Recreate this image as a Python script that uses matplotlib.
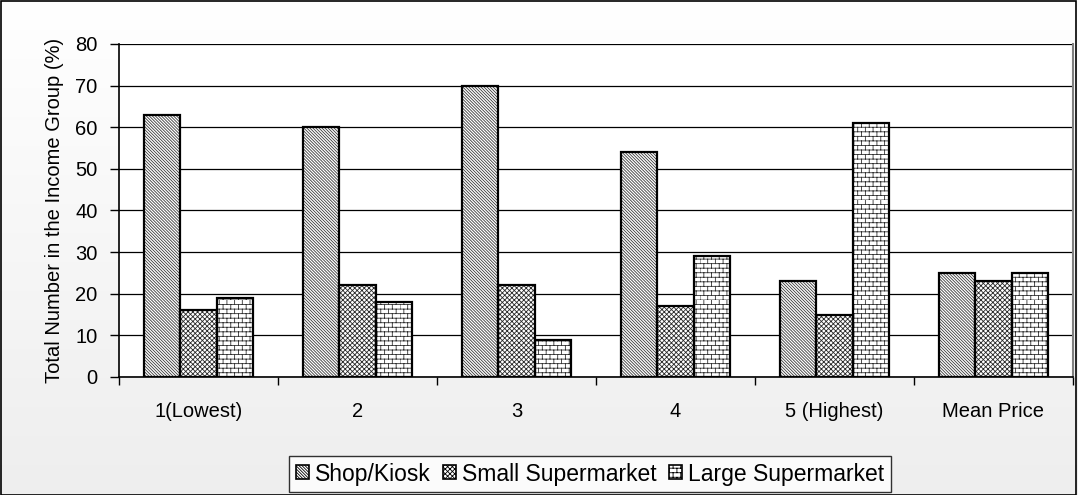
import numpy as np
import matplotlib
matplotlib.use("Agg")
import matplotlib.pyplot as plt
from matplotlib import hatch as mhatch
from matplotlib.path import Path
from matplotlib.patches import Patch, Rectangle
import warnings

warnings.filterwarnings("ignore")

categories = ["1(Lowest)", "2", "3", "4", "5 (Highest)", "Mean Price"]
shop_kiosk = [63, 60, 70, 54, 23, 25]
small_supermarket = [16, 22, 22, 17, 15, 23]
large_supermarket = [19, 18, 9, 29, 61, 25]
series_names = ["Shop/Kiosk", "Small Supermarket", "Large Supermarket"]
y_ticks = [0, 10, 20, 30, 40, 50, 60, 70, 80]


class BrickHatch(mhatch.HatchPatternBase):
    """Brick-wall hatch: horizontal courses with staggered vertical joints."""

    def __init__(self, hatch, density):
        n = hatch.count("b")
        self.rows = 22 * n
        self.cols = 13 * n
        self.num_vertices = 2 * self.rows + 2 * self.rows * self.cols

    def set_vertices_and_codes(self, vertices, codes):
        verts = []
        for k in range(self.rows):
            y = k / self.rows
            verts += [(0.0, y), (1.0, y)]
        for k in range(self.rows):
            y0 = k / self.rows
            y1 = (k + 1) / self.rows
            off = 0.5 * (k % 2)
            for j in range(self.cols):
                xv = (j + off) / self.cols
                verts += [(xv, y0), (xv, y1)]
        vertices[:] = np.array(verts)
        codes[0::2] = Path.MOVETO
        codes[1::2] = Path.LINETO


mhatch._hatch_types.append(BrickHatch)

plt.rcParams["font.family"] = ["Liberation Sans", "DejaVu Sans"]
plt.rcParams["hatch.linewidth"] = 0.6

W, H = 1078, 495
fig = plt.figure(figsize=(W / 100, H / 100), dpi=100)

# light vertical gradient behind everything
bg = fig.add_axes([0, 0, 1, 1], zorder=-10)
grad = np.linspace(0, 1, 256).reshape(-1, 1)
bg.imshow(grad, aspect="auto",
          cmap=matplotlib.colors.LinearSegmentedColormap.from_list("g", ["#ffffff", "#eeeeee"]),
          extent=[0, 1, 0, 1], origin="upper")
bg.set_xlim(0, 1)
bg.set_ylim(0, 1)
bg.axis("off")
fig.patches.append(Rectangle((0.0005, 0.001), 0.998, 0.997, transform=fig.transFigure,
                             fill=False, edgecolor="black", linewidth=1.2))

left, right = 119 / W, 1073 / W
bottom, top = (H - 377) / H, (H - 44) / H
ax = fig.add_axes([left, bottom, right - left, top - bottom])
ax.set_facecolor("white")

x = np.arange(len(categories))
bw = 0.227
hatches = ["\\" * 11, "x" * 7, "b"]
hatch_colors = ["#3a3a3a", "#2a2a2a", "#303030"]
data = [shop_kiosk, small_supermarket, large_supermarket]
for i, (vals, name, h, hc) in enumerate(zip(data, series_names, hatches, hatch_colors)):
    ax.bar(x + (i - 1) * bw, vals, width=bw, color="white", edgecolor=hc,
           hatch=h, linewidth=0, label=name, zorder=3)
    ax.bar(x + (i - 1) * bw, vals, width=bw, fill=False, edgecolor="black",
           linewidth=1.6, zorder=4)

ax.set_xlim(-0.5, len(categories) - 0.5)
ax.set_ylim(0, 80)
ax.set_yticks(y_ticks)
ax.yaxis.grid(True, color="black", linewidth=0.9)
ax.set_axisbelow(True)
ax.tick_params(axis="y", length=6.5, width=1, labelsize=14.5, pad=9, direction="out")

ax.set_xticks(x)
ax.set_xticklabels(categories, fontsize=14.5)
ax.set_xticks(np.arange(len(categories) + 1) - 0.5, minor=True)
ax.tick_params(axis="x", which="major", length=0, pad=18)
ax.tick_params(axis="x", which="minor", length=6, width=1, direction="out")

ax.spines["top"].set_visible(False)
ax.spines["right"].set_color("#808080")
ax.spines["right"].set_linewidth(1.5)
ax.spines["left"].set_linewidth(1.2)
ax.spines["bottom"].set_linewidth(1.2)

ax.set_ylabel("Total Number in the Income Group (%)", fontsize=14.5, labelpad=8)

# legend with hatched swatches
handles = [Patch(facecolor="white", edgecolor="black", hatch=h, linewidth=1.2)
           for h in hatches]
leg = fig.legend(handles, series_names, loc="center", bbox_to_anchor=(590 / W, (H - 474) / H),
                 ncol=3, fontsize=16.5, frameon=True, fancybox=False, handlelength=0.57,
                 handleheight=0.57, handletextpad=0.26, columnspacing=0.52, borderpad=0.3)
leg.get_frame().set_edgecolor("black")
leg.get_frame().set_linewidth(1.0)
leg.get_frame().set_facecolor("white")

fig.savefig("out.png", dpi=100)
